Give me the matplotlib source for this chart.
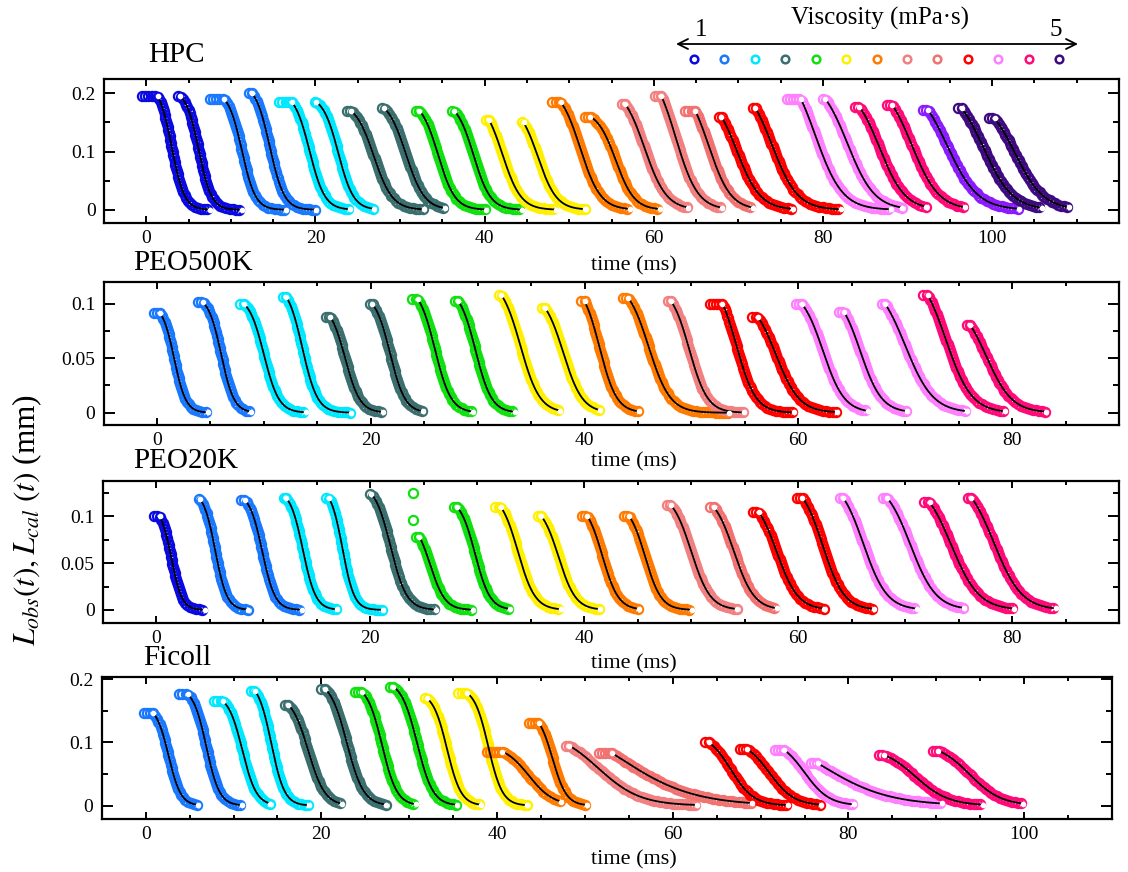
import numpy as np
import matplotlib.pyplot as plt
from matplotlib.ticker import MultipleLocator, FuncFormatter

plt.rcParams['font.family'] = ['Liberation Serif', 'DejaVu Serif']
plt.rcParams['mathtext.fontset'] = 'stix'

W, H = 1128, 872

# viscosity colour scale (1 -> 5 mPa·s), last entry only used once in HPC
visc_colors = ['#0a0ae0', '#1a78ff', '#00e8ff', '#3b6e6e', '#10e010', '#fff000',
               '#ff7a00', '#f38080', '#f27272', '#ff0000', '#ff80ff', '#ff0a78',
               '#3d0a80']
palette = visc_colors + ['#8c1aff']

# ---- HPC ----
hpc_obs0 = [-0.5, 3.7, 7.5, 12.1, 15.7, 19.9, 23.7, 27.9, 31.9, 36.2, 40.2, 44.4, 48.0,
            51.9, 56.3, 60.1, 63.7, 67.7, 71.7, 75.7, 80.0, 83.8, 87.6, 91.8, 96.0, 99.6]
hpc_fit0 = [1.35, 4.0, 9.2, 12.5, 17.2, 20.1, 24.2, 28.1, 32.3, 36.4, 40.5, 44.6, 49.0,
            52.5, 56.6, 60.9, 64.9, 68.0, 72.0, 77.4, 80.3, 84.3, 88.2, 92.4, 96.4, 100.3]
hpc_end = [7.5, 11.3, 16.5, 20.1, 24.1, 26.9, 32.8, 35.3, 40.2, 44.4, 48.4, 51.9, 57.2,
           60.7, 64.1, 68.1, 71.7, 76.4, 82.1, 88.0, 89.4, 92.2, 96.8, 103.2, 105.9, 109.1]
hpc_amp = [0.195, 0.195, 0.19, 0.2, 0.185, 0.185, 0.17, 0.175, 0.17, 0.17, 0.155, 0.15, 0.185,
           0.16, 0.182, 0.195, 0.17, 0.16, 0.175, 0.19, 0.19, 0.177, 0.18, 0.172, 0.174, 0.157]
hpc_half = [3.0, 6.2, 11.3, 14.6, 19.3, 22.7, 26.9, 30.7, 34.5, 38.7, 42.1, 46.3, 51.3,
            55.5, 58.9, 62.6, 66.5, 69.8, 74.0, 79.1, 82.9, 86.7, 90.5, 94.7, 99.0, 102.7]
hpc_width = [0.75, 0.75, 0.8, 0.85, 0.9, 0.9, 1.1, 1.1, 1.0, 1.0, 1.1, 1.1, 1.2,
             1.1, 1.3, 1.3, 1.3, 1.4, 1.5, 1.6, 1.6, 1.5, 1.6, 1.8, 1.7, 1.7]
hpc_color = [0, 0, 1, 1, 2, 2, 3, 3, 4, 4, 5, 5, 6, 6, 7, 7, 8, 9, 9, 10, 10, 11, 11, 13, 12, 12]

# ---- PEO500K ----
p500_obs0 = [-0.3, 3.8, 7.8, 11.8, 15.8, 19.9, 23.9, 27.9, 32.0, 36.0,
             39.7, 43.6, 47.8, 51.7, 55.7, 59.8, 63.8, 67.8, 71.7, 75.8]
p500_fit0 = [0.3, 4.3, 8.1, 12.1, 16.2, 20.1, 24.4, 28.2, 32.2, 36.3,
             40.0, 44.1, 48.1, 52.9, 56.2, 60.3, 64.3, 68.1, 72.1, 76.1]
p500_end = [4.8, 8.8, 13.9, 18.1, 21.1, 24.9, 29.6, 33.5, 37.7, 41.4,
            45.1, 53.5, 54.9, 59.6, 63.6, 66.5, 70.2, 75.8, 79.3, 83.2]
p500_amp = [0.091, 0.101, 0.1, 0.106, 0.088, 0.1, 0.104, 0.102, 0.108, 0.096,
            0.102, 0.105, 0.102, 0.1, 0.088, 0.1, 0.092, 0.1, 0.108, 0.08]
p500_half = [1.6, 6.0, 10.0, 13.6, 17.6, 21.8, 26.0, 29.8, 34.0, 38.0,
             41.4, 46.0, 49.8, 54.2, 57.9, 62.3, 65.8, 70.0, 73.8, 77.6]
p500_width = [0.55, 0.6, 0.7, 0.7, 0.7, 0.7, 0.75, 0.75, 0.9, 0.9,
              0.8, 1.0, 0.85, 0.9, 1.1, 1.0, 1.0, 1.3, 1.2, 1.2]
p500_color = [1, 1, 2, 2, 3, 3, 4, 4, 5, 5, 6, 6, 7, 9, 9, 10, 10, 10, 11, 11]

# ---- PEO20K ----
p20_obs0 = [-0.2, 4.0, 7.9, 11.9, 15.9, 20.0, 24.3, 27.8, 31.7, 35.7,
            39.8, 43.7, 47.7, 51.8, 55.8, 59.9, 63.9, 67.9, 71.8, 75.9]
p20_fit0 = [0.3, 4.1, 8.3, 12.1, 16.1, 20.1, 24.6, 28.1, 32.2, 36.0,
            40.3, 44.2, 48.1, 52.1, 56.3, 60.4, 64.2, 68.3, 72.3, 76.2]
p20_end = [4.5, 8.6, 13.6, 16.9, 21.2, 26.1, 29.6, 33.1, 37.8, 41.5,
           45.1, 50.1, 54.3, 58.0, 62.4, 67.1, 71.1, 75.5, 80.2, 84.1]
p20_amp = [0.1, 0.118, 0.117, 0.12, 0.12, 0.124, 0.078, 0.11, 0.11, 0.1,
           0.1, 0.1, 0.112, 0.11, 0.105, 0.12, 0.12, 0.12, 0.115, 0.12]
p20_half = [1.4, 5.5, 9.9, 13.7, 17.4, 21.9, 25.6, 29.8, 33.8, 37.6,
            41.7, 45.7, 50.0, 54.0, 58.0, 62.3, 66.1, 70.5, 74.3, 78.3]
p20_width = [0.5, 0.55, 0.6, 0.6, 0.55, 0.75, 0.7, 0.7, 0.8, 0.8,
             0.75, 0.75, 0.9, 0.95, 1.0, 1.0, 1.1, 1.2, 1.3, 1.3]
p20_color = [0, 1, 1, 2, 2, 3, 4, 4, 5, 5, 6, 6, 7, 8, 9, 9, 10, 10, 11, 11]
p20_extra_t = [24.0, 24.0]
p20_extra_y = [0.125, 0.096]

# ---- Ficoll ----
fic_obs0 = [-0.2, 3.8, 7.8, 12.0, 15.8, 20.0, 23.8, 27.8, 31.8, 35.6,
            38.8, 43.6, 47.8, 51.6, 63.7, 67.6, 71.6, 75.7, 83.5, 89.6]
fic_fit0 = [0.8, 4.8, 8.8, 12.4, 16.2, 20.4, 24.6, 28.2, 32.0, 36.6,
            40.6, 44.8, 48.2, 53.1, 64.1, 68.4, 72.7, 76.5, 84.1, 90.2]
fic_end = [6.0, 11.0, 14.2, 18.6, 22.4, 27.4, 30.8, 35.4, 38.2, 43.4,
           47.3, 50.2, 62.7, 69.0, 73.1, 76.9, 80.6, 90.6, 95.3, 99.9]
fic_amp = [0.147, 0.176, 0.165, 0.182, 0.16, 0.185, 0.18, 0.188, 0.17, 0.178,
           0.0855, 0.13, 0.095, 0.083, 0.1, 0.09, 0.088, 0.067, 0.08, 0.087]
fic_half = [2.6, 6.9, 11.0, 14.3, 18.5, 22.9, 26.9, 30.9, 34.3, 39.0,
            43.6, 46.3, 51.5, 54.0, 66.6, 71.0, 75.0, 77.0, 87.6, 93.8]
fic_width = [0.7, 0.75, 0.8, 0.75, 0.95, 0.95, 0.85, 0.9, 0.8, 0.8,
             1.4, 0.8, 2.4, 4.2, 1.3, 1.4, 1.4, 3.8, 1.9, 1.8]
fic_color = [1, 1, 2, 2, 3, 3, 4, 4, 5, 5, 6, 6, 7, 8, 9, 9, 10, 10, 11, 11]


def lcal(t, t0, amp, th, w):
    # fitted shape, normalised so that L(t0) = amp
    return amp * (1 + np.exp((t0 - th) / w)) / (1 + np.exp((t - th) / w))


def even_pick(ax, t, y, step_px):
    # keep samples roughly step_px apart along the drawn curve
    pts = ax.transData.transform(np.column_stack([t, y]))
    seg = np.hypot(*np.diff(pts, axis=0).T)
    s = np.concatenate([[0], np.cumsum(seg)])
    idx = np.searchsorted(s, np.arange(0, s[-1] + 1e-9, step_px))
    idx = np.unique(np.clip(idx, 0, len(t) - 1))
    return t[idx], y[idx]


panels = [
    dict(name='HPC', obs0=hpc_obs0, fit0=hpc_fit0, end=hpc_end, amp=hpc_amp,
         half=hpc_half, width=hpc_width, color=hpc_color,
         xlim=(-5, 115), ylim=(-0.022, 0.224), ymaj=0.1, ymin=0.05,
         box=(104, 79.3, 1119, 222.7), title_xy=(148, 62), time_y=270),
    dict(name='PEO500K', obs0=p500_obs0, fit0=p500_fit0, end=p500_end, amp=p500_amp,
         half=p500_half, width=p500_width, color=p500_color,
         xlim=(-5, 90), ylim=(-0.0112, 0.12), ymaj=0.05, ymin=0.025,
         box=(103.6, 281.7, 1119, 425), title_xy=(133, 270), time_y=466),
    dict(name='PEO20K', obs0=p20_obs0, fit0=p20_fit0, end=p20_end, amp=p20_amp,
         half=p20_half, width=p20_width, color=p20_color,
         xlim=(-5, 90), ylim=(-0.0142, 0.138), ymaj=0.05, ymin=0.025,
         box=(102.9, 480.7, 1119, 623.3), title_xy=(133, 468), time_y=668),
    dict(name='Ficoll', obs0=fic_obs0, fit0=fic_fit0, end=fic_end, amp=fic_amp,
         half=fic_half, width=fic_width, color=fic_color,
         xlim=(-5, 110), ylim=(-0.0216, 0.204), ymaj=0.1, ymin=0.05,
         box=(101.8, 676.7, 1112, 819.3), title_xy=(143, 665), time_y=864),
]

fig = plt.figure(figsize=(W / 100, H / 100), dpi=100)

for p in panels:
    x0, y0, x1, y1 = p['box']
    ax = fig.add_axes([x0 / W, 1 - y1 / H, (x1 - x0) / W, (y1 - y0) / H])
    ax.set_xlim(*p['xlim'])
    ax.set_ylim(*p['ylim'])

    for i in range(len(p['amp'])):
        c = palette[p['color'][i]]
        t0, A, th, w = p['fit0'][i], p['amp'][i], p['half'][i], p['width'][i]
        t_dense = np.linspace(p['obs0'][i], p['end'][i], 2000)
        y_dense = np.minimum(lcal(t_dense, t0, A, th, w), A)
        t_obs, y_obs = even_pick(ax, t_dense, y_dense, 3.2)
        ax.plot(t_obs, y_obs, 'o', ms=6.6, mfc='none', mec=c, mew=1.6, zorder=2)
        t_fit = np.linspace(t0, p['end'][i], 200)
        ax.plot(t_fit, lcal(t_fit, t0, A, th, w), '-', color='black', lw=1.3, zorder=3)
        ax.plot(t_fit[[0, -1]], lcal(t_fit[[0, -1]], t0, A, th, w), 'o', ms=3,
                mfc='white', mec='white', zorder=4)

    if p['name'] == 'PEO20K':
        ax.plot(p20_extra_t, p20_extra_y, 'o', ms=6.6, mfc='none',
                mec=palette[4], mew=1.6, zorder=2)

    ax.xaxis.set_major_locator(MultipleLocator(20))
    ax.xaxis.set_minor_locator(MultipleLocator(5))
    ax.yaxis.set_major_locator(MultipleLocator(p['ymaj']))
    ax.yaxis.set_minor_locator(MultipleLocator(p['ymin']))
    ax.yaxis.set_major_formatter(FuncFormatter(lambda v, pos: '%g' % round(v, 3)))
    ax.xaxis.set_major_formatter(FuncFormatter(lambda v, pos: '%g' % v))
    ax.tick_params(which='both', direction='in', top=True, right=True,
                   labelsize=14, width=1.4)
    ax.tick_params(axis='x', which='major', length=5, pad=5)
    ax.tick_params(axis='x', which='minor', length=3)
    ax.tick_params(axis='y', which='major', length=8, pad=6)
    ax.tick_params(axis='y', which='minor', length=4)
    for s in ax.spines.values():
        s.set_linewidth(1.6)

    tx, ty = p['title_xy']
    fig.text(tx / W, 1 - ty / H, p['name'], fontsize=21, va='baseline', ha='left')
    fig.text(634 / W, 1 - p['time_y'] / H, 'time (ms)', fontsize=16,
             va='baseline', ha='center')

fig.text(27 / W, 1 - 520 / H, r'$L_{obs}(t), L_{cal}\ (t)$ (mm)', fontsize=22.5,
         rotation=90, ha='center', va='center')

# viscosity legend in pixel space
lax = fig.add_axes([0, 0, 1, 1])
lax.set_xlim(0, W)
lax.set_ylim(H, 0)
lax.axis('off')
lax.annotate('', xy=(676, 44), xytext=(1078, 44),
             arrowprops=dict(arrowstyle='<->', lw=1.3, color='black',
                             mutation_scale=18, shrinkA=0, shrinkB=0))
leg_x = np.linspace(694, 1059, len(visc_colors))
for xi, c in zip(leg_x, visc_colors):
    lax.plot(xi, 59, 'o', ms=5.5, mfc='none', mec=c, mew=1.8)
lax.text(880, 25, 'Viscosity (mPa\u00b7s)', fontsize=18, ha='center', va='baseline')
lax.text(701, 36, '1', fontsize=18, ha='center', va='baseline')
lax.text(1056, 36, '5', fontsize=18, ha='center', va='baseline')

fig.savefig('out.png', dpi=100)
